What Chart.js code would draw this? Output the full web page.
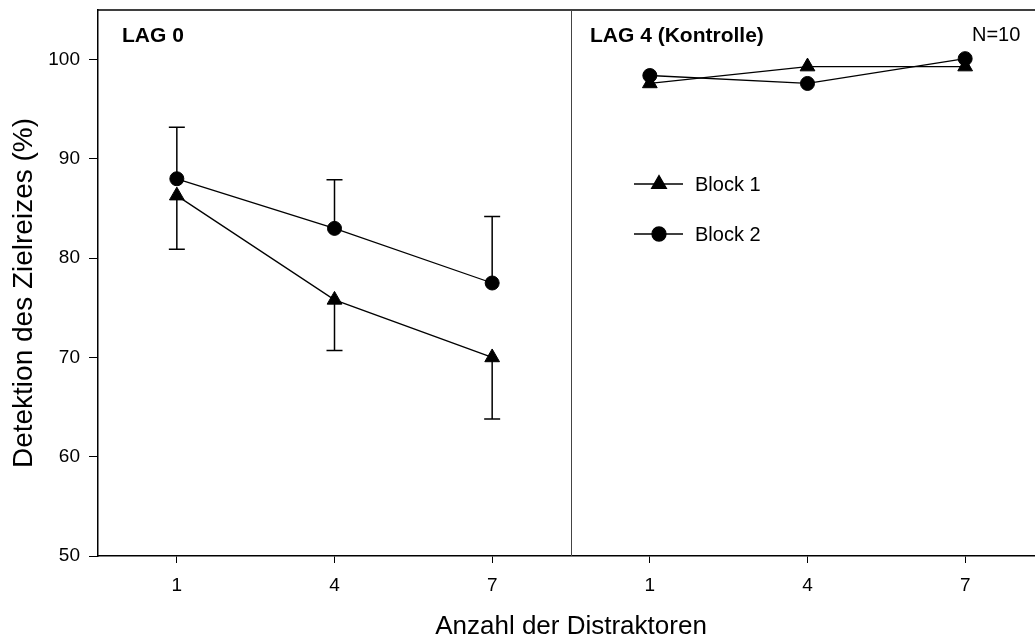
<!DOCTYPE html>
<html>
<head>
<meta charset="utf-8">
<script src="https://cdn.jsdelivr.net/npm/chart.js@4.4.1/dist/chart.umd.min.js"></script>
<style>
  html, body { margin: 0; padding: 0; background: #fff; overflow: hidden; }
  #wrap { width: 1045px; height: 637px; overflow: hidden; }
</style>
</head>
<body>
<div id="wrap"><canvas id="lag-chart" width="1045" height="637"></canvas></div>
<script>
'use strict';

// *************** DATA
let panels = ['LAG 0', 'LAG 4 (Kontrolle)'];
let distractors = ['1', '4', '7'];
let yTicks = [50, 60, 70, 80, 90, 100];
let seriesNames = ['Block 1', 'Block 2'];
let sampleNote = 'N=10';
let yTitle = 'Detektion des Zielreizes (%)';

let block1Lag0 = [86.3, 75.8, 70.0];
let block1Lag4 = [97.6, 99.3, 99.3];
let block2Lag0 = [88.0, 83.0, 77.5];
let block2Lag4 = [98.4, 97.6, 100.1];

// error bars only in LAG 0: block 1 drawn down, block 2 drawn up
let block1ErrLag0 = [5.4, 5.1, 6.2];
let block2ErrLag0 = [5.2, 4.9, 6.7];

// *************** GLOBALS
const FONT = 'Liberation Sans, Arial, Helvetica, sans-serif';
Chart.defaults.font.family = FONT;
Chart.defaults.color = '#000';

let ctx = document.getElementById('lag-chart');
let nCells = panels.length * distractors.length;

// ***************** HELPER FUNCTIONS
function xAt(panel, i) {
  return panel * distractors.length + i + 1;
}

function makeSet(values, panel, style, radius) {
  return {
    data: values.map((v, i) => ({ x: xAt(panel, i), y: v })),
    borderColor: '#000',
    backgroundColor: '#000',
    borderWidth: 1.3,
    pointStyle: style,
    pointRadius: radius,
    pointBorderWidth: 1,
    pointBackgroundColor: '#000',
    pointBorderColor: '#000',
    tension: 0,
    clip: false
  };
}

// no extra room for the outer tick labels, the layout padding decides
function noPadding(s) {
  s.paddingTop = 0;
  s.paddingBottom = 0;
  s.paddingLeft = 0;
  s.paddingRight = 0;
}

// *********** PLUGINS
let errorBars = {
  id: 'errorBars',
  beforeDatasetsDraw(chart) {
    let c = chart.ctx;
    let xs = chart.scales.x;
    let ys = chart.scales.y;
    let cap = 8;
    c.save();
    c.strokeStyle = '#000';
    c.lineWidth = 1.5;
    let sets = [[block1Lag0, block1ErrLag0, -1], [block2Lag0, block2ErrLag0, 1]];
    sets.forEach(([vals, errs, dir]) => {
      vals.forEach((v, i) => {
        let px = xs.getPixelForValue(xAt(0, i));
        let y0 = ys.getPixelForValue(v);
        let y1 = ys.getPixelForValue(v + dir * errs[i]);
        c.beginPath();
        c.moveTo(px, y0);
        c.lineTo(px, y1);
        c.moveTo(px - cap, y1);
        c.lineTo(px + cap, y1);
        c.stroke();
      });
    });
    c.restore();
  }
};

let frameAndLabels = {
  id: 'frameAndLabels',
  afterDraw(chart) {
    let c = chart.ctx;
    let area = chart.chartArea;
    let xs = chart.scales.x;
    let divX = xs.getPixelForValue(distractors.length + 0.5);
    c.save();

    // top border + right border (the right one falls past the window)
    c.strokeStyle = '#000';
    c.lineWidth = 1.5;
    c.beginPath();
    c.moveTo(area.left, area.top);
    c.lineTo(area.right, area.top);
    c.lineTo(area.right, area.bottom);
    c.stroke();

    // panel divider
    c.strokeStyle = '#444';
    c.lineWidth = 1;
    c.beginPath();
    c.moveTo(Math.round(divX) + 0.5, area.top);
    c.lineTo(Math.round(divX) + 0.5, area.bottom);
    c.stroke();

    // y axis title, sits a bit below the middle of the plot
    c.fillStyle = '#000';
    c.save();
    c.translate(24, (area.top + area.bottom) / 2 + 10);
    c.rotate(-Math.PI / 2);
    c.font = '28px ' + FONT;
    c.textAlign = 'center';
    c.textBaseline = 'middle';
    c.fillText(yTitle, 0, 0);
    c.restore();

    // panel labels
    c.textBaseline = 'alphabetic';
    c.textAlign = 'left';
    c.font = 'bold 21px ' + FONT;
    c.fillText(panels[0], area.left + 24, area.top + 32);
    c.fillText(panels[1], divX + 19, area.top + 32);
    c.font = '20px ' + FONT;
    c.fillText(sampleNote, area.right - 72, area.top + 31);

    // legend
    let styles = [['triangle', 8.5], ['circle', 7]];
    let lx = divX + 63;
    seriesNames.forEach((name, k) => {
      let ly = area.top + 174 + k * 50;
      c.strokeStyle = '#000';
      c.lineWidth = 1.3;
      c.beginPath();
      c.moveTo(lx, ly);
      c.lineTo(lx + 49, ly);
      c.stroke();
      c.fillStyle = '#000';
      Chart.helpers.drawPoint(c, { pointStyle: styles[k][0], radius: styles[k][1], rotation: 0, borderWidth: 1 }, lx + 25, ly);
      c.fillStyle = '#000';
      c.font = '20px ' + FONT;
      c.textBaseline = 'middle';
      c.fillText(name, lx + 61, ly + 1);
    });

    c.restore();
  }
};

// *********** RENDER CHART
let chartObj = {
  type: 'line',
  data: {
    datasets: [
      makeSet(block1Lag0, 0, 'triangle', 8.5),
      makeSet(block1Lag4, 1, 'triangle', 8.5),
      makeSet(block2Lag0, 0, 'circle', 7),
      makeSet(block2Lag4, 1, 'circle', 7)
    ]
  },
  options: {
    responsive: false,
    animation: false,
    devicePixelRatio: 1,
    layout: { autoPadding: false, padding: { top: 10, right: 1, left: 0, bottom: 0 } },
    plugins: {
      legend: { display: false },
      tooltip: { enabled: false }
    },
    scales: {
      x: {
        type: 'linear',
        min: 0.5,
        max: nCells + 0.5,
        afterBuildTicks: (s) => {
          let t = [];
          panels.forEach((p, pi) => distractors.forEach((d, i) => t.push({ value: xAt(pi, i) })));
          s.ticks = t;
        },
        afterFit: (s) => { s.height = 81; noPadding(s); },
        ticks: {
          callback: (v) => distractors[(v - 1) % distractors.length],
          font: { size: 19 },
          color: '#000',
          padding: 11,
          maxRotation: 0
        },
        grid: { drawOnChartArea: false, drawTicks: true, tickLength: 7, color: '#000', lineWidth: 1 },
        border: { display: true, color: '#000', width: 1.5 },
        title: {
          display: true,
          text: 'Anzahl der Distraktoren',
          font: { size: 26 },
          color: '#000',
          padding: { top: 0, bottom: -5 }
        }
      },
      y: {
        min: 50,
        max: 105,
        afterBuildTicks: (s) => { s.ticks = yTicks.map((v) => ({ value: v })); },
        afterFit: (s) => { s.width = 98; noPadding(s); },
        ticks: { font: { size: 19 }, color: '#000', padding: 9 },
        grid: { drawOnChartArea: false, drawTicks: true, tickLength: 9, color: '#000', lineWidth: 1 },
        border: { display: true, color: '#000', width: 1.5 }
      }
    }
  },
  plugins: [errorBars, frameAndLabels]
};

new Chart(ctx, chartObj); // eslint-disable-line
</script>
</body>
</html>
